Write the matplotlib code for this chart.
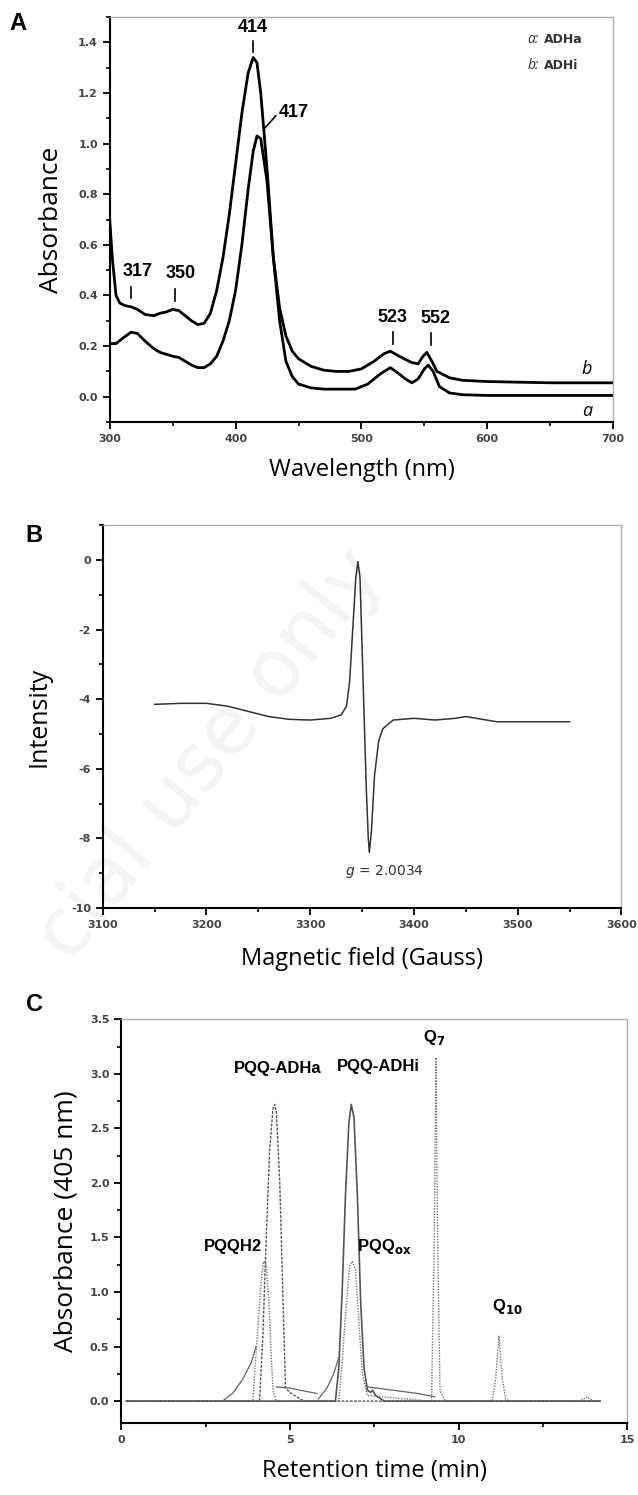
import matplotlib
matplotlib.use("Agg")
import matplotlib.pyplot as plt
import numpy as np
from matplotlib.ticker import MultipleLocator, FormatStrFormatter

plt.rcParams["axes.unicode_minus"] = False

# ---- Panel A : UV-vis spectra ----
wl_b = [300, 302, 305, 308, 312, 317, 322, 328, 335, 340, 345, 350, 355, 360, 365, 370,
        375, 380, 385, 390, 395, 400, 405, 410, 414, 417, 420, 425, 430, 435, 440, 445,
        450, 460, 470, 480, 490, 500, 510, 518, 523, 530, 540, 545, 549, 552, 556, 560,
        570, 580, 600, 650, 700]
abs_b = [0.70, 0.55, 0.40, 0.37, 0.36, 0.355, 0.345, 0.325, 0.32, 0.33, 0.335, 0.345, 0.34,
         0.32, 0.30, 0.285, 0.29, 0.33, 0.42, 0.55, 0.72, 0.92, 1.12, 1.28, 1.34, 1.32,
         1.20, 0.90, 0.55, 0.35, 0.24, 0.18, 0.15, 0.12, 0.105, 0.10, 0.10, 0.11, 0.14,
         0.17, 0.18, 0.16, 0.135, 0.13, 0.16, 0.175, 0.14, 0.10, 0.075, 0.065, 0.06,
         0.055, 0.055]
wl_a = [300, 305, 310, 317, 322, 328, 335, 340, 350, 355, 360, 365, 370, 375, 380, 385,
        390, 395, 400, 405, 410, 414, 417, 420, 425, 430, 435, 440, 445, 450, 460, 470,
        480, 495, 505, 515, 523, 530, 535, 540, 545, 550, 553, 557, 562, 570, 580, 600, 700]
abs_a = [0.21, 0.21, 0.23, 0.255, 0.25, 0.22, 0.19, 0.175, 0.16, 0.155, 0.14, 0.125,
         0.115, 0.115, 0.13, 0.16, 0.22, 0.30, 0.42, 0.60, 0.82, 0.97, 1.03, 1.02, 0.85,
         0.55, 0.30, 0.14, 0.08, 0.05, 0.035, 0.03, 0.03, 0.03, 0.05, 0.09, 0.115, 0.09,
         0.07, 0.055, 0.07, 0.11, 0.125, 0.10, 0.04, 0.015, 0.008, 0.005, 0.005]
peak_labels_A = ["317", "350", "414", "523", "552"]
peak_pos_A = [317, 352, 414, 525, 555]

# ---- Panel B : EPR ----
field = [3150, 3175, 3200, 3220, 3240, 3260, 3280, 3300, 3320, 3330, 3335, 3338, 3341,
         3344, 3346, 3348, 3350, 3352, 3354, 3356, 3357, 3359, 3362, 3366, 3370, 3380,
         3400, 3420, 3440, 3450, 3460, 3480, 3500, 3520, 3550]
intensity = [-4.15, -4.12, -4.12, -4.2, -4.35, -4.5, -4.58, -4.6, -4.55, -4.45, -4.2,
             -3.5, -2.0, -0.5, -0.05, -0.5, -2.5, -4.5, -6.5, -8.0, -8.4, -7.8, -6.2,
             -5.2, -4.85, -4.6, -4.55, -4.6, -4.55, -4.5, -4.55, -4.65, -4.65, -4.65, -4.65]

# ---- Panel C : HPLC ----
t_adha = [0.15, 4.1, 4.2, 4.3, 4.4, 4.5, 4.55, 4.6, 4.7, 4.8, 4.87, 5.0, 5.2, 5.42, 14.2]
y_adha = [0.0, 0.0, 0.6, 1.5, 2.3, 2.68, 2.72, 2.65, 2.0, 0.9, 0.12, 0.08, 0.04, 0.0, 0.0]
t_adhi = [0.15, 6.35, 6.45, 6.55, 6.65, 6.75, 6.82, 6.9, 7.0, 7.1, 7.2, 7.3, 7.4, 7.45,
          7.55, 7.8, 14.2]
y_adhi = [0.0, 0.0, 0.3, 1.0, 1.9, 2.55, 2.72, 2.6, 1.9, 0.9, 0.3, 0.1, 0.08, 0.1, 0.05,
          0.0, 0.0]
t_std = [0.15, 3.9, 4.0, 4.08, 4.15, 4.22, 4.3, 4.38, 4.45, 4.5, 4.6, 6.45, 6.55, 6.65,
         6.78, 6.85, 6.95, 7.05, 7.15, 7.3, 9.2, 9.28, 9.33, 9.38, 9.45, 9.6, 11.0, 11.1,
         11.2, 11.3, 11.4, 11.5, 13.6, 13.8, 14.0, 14.2]
y_std = [0.0, 0.0, 0.45, 0.8, 1.1, 1.28, 1.25, 0.9, 0.4, 0.1, 0.0, 0.0, 0.35, 0.8, 1.25,
         1.28, 1.2, 0.7, 0.25, 0.05, 0.0, 1.5, 3.15, 1.5, 0.1, 0.0, 0.0, 0.2, 0.6, 0.2,
         0.02, 0.0, 0.0, 0.04, 0.0, 0.0]
t_base = [3.0, 3.3, 3.6, 3.85, 4.0, np.nan, 4.6, 5.0, 5.3, 5.8, np.nan, 5.85, 6.1, 6.3,
          6.45, np.nan, 7.3, 7.8, 8.3, 8.8, 9.29]
y_base = [0.0, 0.07, 0.2, 0.35, 0.5, np.nan, 0.13, 0.12, 0.1, 0.07, np.nan, 0.02, 0.12,
          0.25, 0.4, np.nan, 0.13, 0.11, 0.09, 0.07, 0.04]

tick_col = "#444444"
frame_col = "#b0b0b0"
narrow = ["Liberation Sans Narrow", "DejaVu Sans Condensed", "Liberation Sans"]
label_font = ["Open Sans", "DejaVu Sans"]

fig = plt.figure(figsize=(6.38, 14.95), dpi=100)

# faint watermark behind the panels
fig.text(0.11, 0.355, "cial use only", fontsize=58, color="#f4f4f4", rotation=51,
         rotation_mode="anchor", ha="left", va="baseline", zorder=-5)


def style(ax):
    for s in ["top", "right"]:
        ax.spines[s].set_color(frame_col)
        ax.spines[s].set_linewidth(1.0)
    for s in ["left", "bottom"]:
        ax.spines[s].set_linewidth(1.5)
    ax.tick_params(which="major", direction="out", length=5, width=1.3,
                   labelsize=8, labelcolor=tick_col)
    ax.tick_params(which="minor", direction="out", length=3, width=1.2)
    for lab in ax.get_xticklabels() + ax.get_yticklabels():
        lab.set_fontweight("bold")
    ax.set_facecolor("none")


# Panel A
axA = fig.add_axes([0.172, 0.7177, 0.789, 0.2709])
axA.plot(wl_b, abs_b, color="black", lw=2)
axA.plot(wl_a, abs_a, color="black", lw=2)
axA.set_xlim(300, 700)
axA.set_ylim(-0.1, 1.5)
axA.set_yticks(np.arange(0, 1.41, 0.2))
axA.xaxis.set_major_locator(MultipleLocator(100))
axA.xaxis.set_minor_locator(MultipleLocator(50))
axA.yaxis.set_minor_locator(MultipleLocator(0.1))
axA.yaxis.set_major_formatter(FormatStrFormatter("%.1f"))
style(axA)
axA.set_xlabel("Wavelength (nm)", fontsize=17, labelpad=10, family=label_font)
axA.set_ylabel("Absorbance", fontsize=19, labelpad=10, family=label_font)

label_y = [0.46, 0.455, 1.425, 0.28, 0.275]
tick_lo = [0.39, 0.38, 1.36, 0.21, 0.205]
text_dx = [5, 4, 0, 0, 4]
for lab, x, ly, lo, dx in zip(peak_labels_A, peak_pos_A, label_y, tick_lo, text_dx):
    axA.text(x + dx, ly, lab, ha="center", va="bottom", fontsize=13, fontweight="bold",
             family=narrow)
    axA.plot([x, x], [lo, lo + 0.045], color="black", lw=1.2)
axA.text(446, 1.09, "417", ha="center", va="bottom", fontsize=13, fontweight="bold",
         family=narrow)
axA.plot([423, 432], [1.06, 1.11], color="black", lw=1.2)
axA.text(679, 0.11, "b", style="italic", fontsize=13, ha="center", va="center",
         family=label_font)
axA.text(679, -0.055, "a", style="italic", fontsize=13, ha="center", va="center",
         family=label_font)
axA.text(632, 1.41, "a:", style="italic", fontsize=10, ha="left", va="center",
         color="#333", family=label_font)
axA.text(645, 1.41, "ADHa", fontsize=9, ha="left", va="center", color="#333",
         fontweight="bold")
axA.text(632, 1.31, "b:", style="italic", fontsize=10, ha="left", va="center",
         color="#333", family=label_font)
axA.text(645, 1.31, "ADHi", fontsize=9, ha="left", va="center", color="#333",
         fontweight="bold")
fig.text(0.015, 0.984, "A", fontsize=17, fontweight="bold", ha="left", va="center",
         family=["Liberation Sans", "DejaVu Sans"])

# Panel B
axB = fig.add_axes([0.161, 0.3926, 0.813, 0.2562])
axB.plot(field, intensity, color="#333333", lw=1.1)
axB.set_xlim(3100, 3600)
axB.set_ylim(-10, 1)
axB.set_yticks(np.arange(-10, 1, 2))
axB.xaxis.set_major_locator(MultipleLocator(100))
axB.xaxis.set_minor_locator(MultipleLocator(50))
axB.yaxis.set_minor_locator(MultipleLocator(1))
style(axB)
axB.set_xlabel("Magnetic field (Gauss)", fontsize=17, labelpad=12, family=label_font)
axB.set_ylabel("Intensity", fontsize=18, labelpad=14, family=label_font)
axB.text(3372, -8.95, r"$g$ = 2.0034", fontsize=10, ha="center", va="center",
         color="#333")
fig.text(0.04, 0.642, "B", fontsize=17, fontweight="bold", ha="left", va="center",
         family=["Liberation Sans", "DejaVu Sans"])

# Panel C
axC = fig.add_axes([0.190, 0.0482, 0.793, 0.270])
axC.plot(t_std, y_std, color="#777777", lw=1.0, ls=(0, (1, 1)))
axC.plot(t_adha, y_adha, color="#555555", lw=1.0, ls=(0, (2, 1)))
axC.plot(t_adhi, y_adhi, color="#555555", lw=1.2)
axC.plot(t_base, y_base, color="#666666", lw=0.9)
axC.set_xlim(0, 15)
axC.set_ylim(-0.2, 3.5)
axC.set_yticks(np.arange(0, 3.51, 0.5))
axC.xaxis.set_major_locator(MultipleLocator(5))
axC.xaxis.set_minor_locator(MultipleLocator(2.5))
axC.yaxis.set_minor_locator(MultipleLocator(0.25))
axC.yaxis.set_major_formatter(FormatStrFormatter("%.1f"))
style(axC)
axC.set_xlabel("Retention time (min)", fontsize=17, labelpad=10, family=label_font)
axC.set_ylabel("Absorbance (405 nm)", fontsize=19, labelpad=8, family=label_font)
lab_kw = dict(fontsize=12, fontweight="bold", family=narrow, va="center")
axC.text(4.63, 3.05, "PQQ-ADHa", ha="center", **lab_kw)
axC.text(7.63, 3.07, "PQQ-ADHi", ha="center", **lab_kw)
axC.text(9.29, 3.33, r"Q$_\mathbf{7}$", ha="center", **lab_kw)
axC.text(3.3, 1.42, "PQQH2", ha="center", **lab_kw)
axC.text(7.0, 1.42, r"PQQ$_\mathbf{ox}$", ha="left", **lab_kw)
axC.text(11.45, 0.87, r"Q$_\mathbf{10}$", ha="center", **lab_kw)
fig.text(0.04, 0.328, "C", fontsize=17, fontweight="bold", ha="left", va="center",
         family=["Liberation Sans", "DejaVu Sans"])

fig.savefig("out.png", dpi=100)
